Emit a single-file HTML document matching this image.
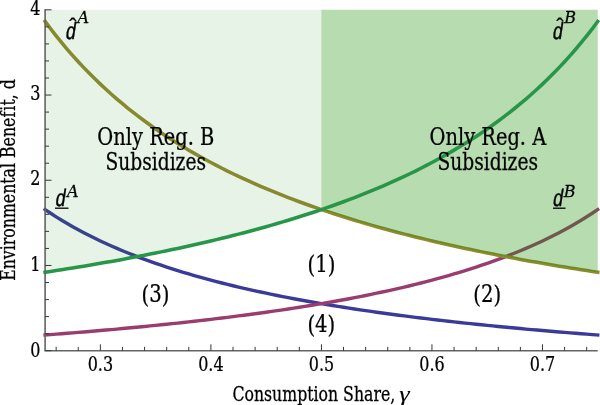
<!DOCTYPE html>
<html lang="en">
<head>
<meta charset="utf-8">
<title>Environmental Benefit vs Consumption Share</title>
<style>
html,body{margin:0;padding:0;background:#fff;}
body{width:600px;height:405px;overflow:hidden;font-family:"Liberation Serif",serif;}
svg{display:block;will-change:transform;}
text{fill:#000;stroke:#000;stroke-width:0.25px;font-variant-ligatures:none;font-kerning:none;}
</style>
</head>
<body>
<svg width="600" height="405" viewBox="0 0 600 405">
<rect x="0" y="0" width="600" height="405" fill="#ffffff"/>
<path d="M45.10,209.58 L50.63,213.27 L56.15,216.81 L61.68,220.23 L67.21,223.51 L72.73,226.68 L78.26,229.74 L83.79,232.68 L89.31,235.53 L94.84,238.28 L100.36,240.94 L105.89,243.51 L111.42,245.99 L116.94,248.40 L122.47,250.74 L128.00,253.00 L133.52,255.19 L139.05,257.32 L144.58,259.38 L150.10,261.39 L155.63,263.34 L161.16,265.23 L166.68,267.07 L172.21,268.86 L177.74,270.60 L183.26,272.30 L188.79,273.95 L194.32,275.56 L199.84,277.12 L205.37,278.65 L210.90,280.14 L216.42,281.59 L221.95,283.01 L227.47,284.39 L233.00,285.74 L238.53,287.06 L244.05,288.34 L249.58,289.60 L255.11,290.83 L260.63,292.03 L266.16,293.20 L271.69,294.35 L277.21,295.48 L282.74,296.58 L288.27,297.65 L293.79,298.71 L299.32,299.74 L304.85,300.75 L310.37,301.74 L315.90,302.71 L321.43,303.66 L326.95,304.59 L332.48,305.50 L338.00,306.40 L343.53,307.28 L349.06,308.14 L354.58,308.98 L360.11,309.81 L365.64,310.63 L371.16,311.43 L376.69,312.21 L382.22,312.98 L387.74,313.74 L393.27,314.48 L398.80,315.21 L404.32,315.93 L409.85,316.64 L415.38,317.33 L420.90,318.01 L426.43,318.68 L431.96,319.34 L437.48,319.99 L443.01,320.62 L448.53,321.25 L454.06,321.87 L459.59,322.48 L465.11,323.07 L470.64,323.66 L476.17,324.24 L481.69,324.81 L487.22,325.37 L492.75,325.92 L498.27,326.47 L503.80,327.00 L509.33,327.53 L514.85,328.05 L520.38,328.56 L525.91,329.07 L531.43,329.57 L536.96,330.06 L542.48,330.54 L548.01,331.02 L553.54,331.49 L559.06,331.95 L564.59,332.41 L570.12,332.86 L575.64,333.30 L581.17,333.74 L586.70,334.17 L592.22,334.60 L597.75,335.02" fill="none" stroke="#3a3a99" stroke-width="3.4" stroke-linecap="square" stroke-linejoin="round"/>
<path d="M45.10,335.02 L50.63,334.60 L56.15,334.17 L61.68,333.74 L67.21,333.30 L72.73,332.86 L78.26,332.41 L83.79,331.95 L89.31,331.49 L94.84,331.02 L100.36,330.54 L105.89,330.06 L111.42,329.57 L116.94,329.07 L122.47,328.56 L128.00,328.05 L133.52,327.53 L139.05,327.00 L144.58,326.47 L150.10,325.92 L155.63,325.37 L161.16,324.81 L166.68,324.24 L172.21,323.66 L177.74,323.07 L183.26,322.48 L188.79,321.87 L194.32,321.25 L199.84,320.62 L205.37,319.99 L210.90,319.34 L216.42,318.68 L221.95,318.01 L227.47,317.33 L233.00,316.64 L238.53,315.93 L244.05,315.21 L249.58,314.48 L255.11,313.74 L260.63,312.98 L266.16,312.21 L271.69,311.43 L277.21,310.63 L282.74,309.81 L288.27,308.98 L293.79,308.14 L299.32,307.28 L304.85,306.40 L310.37,305.50 L315.90,304.59 L321.43,303.66 L326.95,302.71 L332.48,301.74 L338.00,300.75 L343.53,299.74 L349.06,298.71 L354.58,297.65 L360.11,296.58 L365.64,295.48 L371.16,294.35 L376.69,293.20 L382.22,292.03 L387.74,290.83 L393.27,289.60 L398.80,288.34 L404.32,287.06 L409.85,285.74 L415.38,284.39 L420.90,283.01 L426.43,281.59 L431.96,280.14 L437.48,278.65 L443.01,277.12 L448.53,275.56 L454.06,273.95 L459.59,272.30 L465.11,270.60 L470.64,268.86 L476.17,267.07 L481.69,265.23 L487.22,263.34 L492.75,261.39 L498.27,259.38 L503.80,257.32 L509.33,255.19 L514.85,253.00 L520.38,250.74 L525.91,248.40 L531.43,245.99 L536.96,243.51 L542.48,240.94 L548.01,238.28 L553.54,235.53 L559.06,232.68 L564.59,229.74 L570.12,226.68 L575.64,223.51 L581.17,220.23 L586.70,216.81 L592.22,213.27 L597.75,209.58" fill="none" stroke="#993d71" stroke-width="3.4" stroke-linecap="square" stroke-linejoin="round"/>
<path d="M45.10,21.41 L50.63,28.79 L56.15,35.88 L61.68,42.71 L67.21,49.29 L72.73,55.62 L78.26,61.73 L83.79,67.63 L89.31,73.32 L94.84,78.82 L100.36,84.13 L105.89,89.27 L111.42,94.25 L116.94,99.07 L122.47,103.73 L128.00,108.26 L133.52,112.64 L139.05,116.90 L144.58,121.03 L150.10,125.04 L155.63,128.93 L161.16,132.72 L166.68,136.40 L172.21,139.98 L177.74,143.46 L183.26,146.85 L188.79,150.15 L194.32,153.37 L199.84,156.50 L205.37,159.56 L210.90,162.53 L216.42,165.44 L221.95,168.27 L227.47,171.04 L233.00,173.73 L238.53,176.37 L244.05,178.94 L249.58,181.46 L255.11,183.92 L260.63,186.32 L266.16,188.67 L271.69,190.97 L277.21,193.21 L282.74,195.41 L288.27,197.57 L293.79,199.67 L299.32,201.74 L304.85,203.76 L310.37,205.74 L315.90,207.68 L321.43,209.58 L326.95,211.44 L332.48,213.27 L338.00,215.06 L343.53,216.81 L349.06,218.54 L354.58,220.23 L360.11,221.89 L365.64,223.51 L371.16,225.11 L376.69,226.68 L382.22,228.22 L387.74,229.74 L393.27,231.22 L398.80,232.68 L404.32,234.12 L409.85,235.53 L415.38,236.92 L420.90,238.28 L426.43,239.62 L431.96,240.94 L437.48,242.23 L443.01,243.51 L448.53,244.76 L454.06,245.99 L459.59,247.21 L465.11,248.40 L470.64,249.58 L476.17,250.74 L481.69,251.88 L487.22,253.00 L492.75,254.10 L498.27,255.19 L503.80,256.26 L509.33,257.32 L514.85,258.36 L520.38,259.38 L525.91,260.39 L531.43,261.39 L536.96,262.37 L542.48,263.34 L548.01,264.29 L553.54,265.23 L559.06,266.16 L564.59,267.07 L570.12,267.97 L575.64,268.86 L581.17,269.74 L586.70,270.60 L592.22,271.46 L597.75,272.30" fill="none" stroke="#93892f" stroke-width="3.55" stroke-linecap="square" stroke-linejoin="round"/>
<path d="M45.10,9.82 L321.43,9.82 L321.43,209.58 L315.90,211.44 L310.37,213.27 L304.85,215.06 L299.32,216.81 L293.79,218.54 L288.27,220.23 L282.74,221.89 L277.21,223.51 L271.69,225.11 L266.16,226.68 L260.63,228.22 L255.11,229.74 L249.58,231.22 L244.05,232.68 L238.53,234.12 L233.00,235.53 L227.47,236.92 L221.95,238.28 L216.42,239.62 L210.90,240.94 L205.37,242.23 L199.84,243.51 L194.32,244.76 L188.79,245.99 L183.26,247.21 L177.74,248.40 L172.21,249.58 L166.68,250.74 L161.16,251.88 L155.63,253.00 L150.10,254.10 L144.58,255.19 L139.05,256.26 L133.52,257.32 L128.00,258.36 L122.47,259.38 L116.94,260.39 L111.42,261.39 L105.89,262.37 L100.36,263.34 L94.84,264.29 L89.31,265.23 L83.79,266.16 L78.26,267.07 L72.73,267.97 L67.21,268.86 L61.68,269.74 L56.15,270.60 L50.63,271.46 L45.10,272.30 Z" fill="rgb(38,146,40)" fill-opacity="0.11"/>
<path d="M321.43,9.82 L597.75,9.82 L597.75,272.30 L592.22,271.46 L586.70,270.60 L581.17,269.74 L575.64,268.86 L570.12,267.97 L564.59,267.07 L559.06,266.16 L553.54,265.23 L548.01,264.29 L542.48,263.34 L536.96,262.37 L531.43,261.39 L525.91,260.39 L520.38,259.38 L514.85,258.36 L509.33,257.32 L503.80,256.26 L498.27,255.19 L492.75,254.10 L487.22,253.00 L481.69,251.88 L476.17,250.74 L470.64,249.58 L465.11,248.40 L459.59,247.21 L454.06,245.99 L448.53,244.76 L443.01,243.51 L437.48,242.23 L431.96,240.94 L426.43,239.62 L420.90,238.28 L415.38,236.92 L409.85,235.53 L404.32,234.12 L398.80,232.68 L393.27,231.22 L387.74,229.74 L382.22,228.22 L376.69,226.68 L371.16,225.11 L365.64,223.51 L360.11,221.89 L354.58,220.23 L349.06,218.54 L343.53,216.81 L338.00,215.06 L332.48,213.27 L326.95,211.44 L321.43,209.58 Z" fill="rgb(30,146,8)" fill-opacity="0.32"/>
<path d="M45.10,272.30 L50.63,271.46 L56.15,270.60 L61.68,269.74 L67.21,268.86 L72.73,267.97 L78.26,267.07 L83.79,266.16 L89.31,265.23 L94.84,264.29 L100.36,263.34 L105.89,262.37 L111.42,261.39 L116.94,260.39 L122.47,259.38 L128.00,258.36 L133.52,257.32 L139.05,256.26 L144.58,255.19 L150.10,254.10 L155.63,253.00 L161.16,251.88 L166.68,250.74 L172.21,249.58 L177.74,248.40 L183.26,247.21 L188.79,245.99 L194.32,244.76 L199.84,243.51 L205.37,242.23 L210.90,240.94 L216.42,239.62 L221.95,238.28 L227.47,236.92 L233.00,235.53 L238.53,234.12 L244.05,232.68 L249.58,231.22 L255.11,229.74 L260.63,228.22 L266.16,226.68 L271.69,225.11 L277.21,223.51 L282.74,221.89 L288.27,220.23 L293.79,218.54 L299.32,216.81 L304.85,215.06 L310.37,213.27 L315.90,211.44 L321.43,209.58 L326.95,207.68 L332.48,205.74 L338.00,203.76 L343.53,201.74 L349.06,199.67 L354.58,197.57 L360.11,195.41 L365.64,193.21 L371.16,190.97 L376.69,188.67 L382.22,186.32 L387.74,183.92 L393.27,181.46 L398.80,178.94 L404.32,176.37 L409.85,173.73 L415.38,171.04 L420.90,168.27 L426.43,165.44 L431.96,162.53 L437.48,159.56 L443.01,156.50 L448.53,153.37 L454.06,150.15 L459.59,146.85 L465.11,143.46 L470.64,139.98 L476.17,136.40 L481.69,132.72 L487.22,128.93 L492.75,125.04 L498.27,121.03 L503.80,116.90 L509.33,112.64 L514.85,108.26 L520.38,103.73 L525.91,99.07 L531.43,94.25 L536.96,89.27 L542.48,84.13 L548.01,78.82 L553.54,73.32 L559.06,67.63 L564.59,61.73 L570.12,55.62 L575.64,49.29 L581.17,42.71 L586.70,35.88 L592.22,28.79 L597.75,21.41" fill="none" stroke="#289648" stroke-width="3.55" stroke-linecap="square" stroke-linejoin="round"/>
<path d="M45.10,9.32 V350.80 H597.75" fill="none" stroke="#646464" stroke-width="1.6"/>
<path d="M45.10,350.70 h6.4 M45.10,333.66 h3.9 M45.10,316.61 h3.9 M45.10,299.57 h3.9 M45.10,282.52 h3.9 M45.10,265.48 h6.4 M45.10,248.44 h3.9 M45.10,231.39 h3.9 M45.10,214.35 h3.9 M45.10,197.30 h3.9 M45.10,180.26 h6.4 M45.10,163.22 h3.9 M45.10,146.17 h3.9 M45.10,129.13 h3.9 M45.10,112.08 h3.9 M45.10,95.04 h6.4 M45.10,78.00 h3.9 M45.10,60.95 h3.9 M45.10,43.91 h3.9 M45.10,26.86 h3.9 M45.10,9.82 h6.4 M56.15,350.70 v-3.9 M78.26,350.70 v-3.9 M100.36,350.70 v-6.4 M122.47,350.70 v-3.9 M144.58,350.70 v-3.9 M166.68,350.70 v-3.9 M188.79,350.70 v-3.9 M210.90,350.70 v-6.4 M233.00,350.70 v-3.9 M255.11,350.70 v-3.9 M277.21,350.70 v-3.9 M299.32,350.70 v-3.9 M321.43,350.70 v-6.4 M343.53,350.70 v-3.9 M365.64,350.70 v-3.9 M387.74,350.70 v-3.9 M409.85,350.70 v-3.9 M431.95,350.70 v-6.4 M454.06,350.70 v-3.9 M476.17,350.70 v-3.9 M498.27,350.70 v-3.9 M520.38,350.70 v-3.9 M542.48,350.70 v-6.4 M564.59,350.70 v-3.9 M586.70,350.70 v-3.9" fill="none" stroke="#383838" stroke-width="1.0"/>
<text transform="translate(40.30,356.60) scale(0.88,1.0)" font-family="'DejaVu Serif Condensed','DejaVu Serif','Liberation Serif',serif" font-size="20.2" text-anchor="end"  >0</text>
<text transform="translate(40.30,270.68) scale(0.88,1.0)" font-family="'DejaVu Serif Condensed','DejaVu Serif','Liberation Serif',serif" font-size="20.2" text-anchor="end"  >1</text>
<text transform="translate(40.30,185.16) scale(0.88,1.0)" font-family="'DejaVu Serif Condensed','DejaVu Serif','Liberation Serif',serif" font-size="20.2" text-anchor="end"  >2</text>
<text transform="translate(40.30,100.24) scale(0.88,1.0)" font-family="'DejaVu Serif Condensed','DejaVu Serif','Liberation Serif',serif" font-size="20.2" text-anchor="end"  >3</text>
<text transform="translate(40.30,14.52) scale(0.88,1.0)" font-family="'DejaVu Serif Condensed','DejaVu Serif','Liberation Serif',serif" font-size="20.2" text-anchor="end"  >4</text>
<text transform="translate(100.36,371.40) scale(0.88,1.0)" font-family="'DejaVu Serif Condensed','DejaVu Serif','Liberation Serif',serif" font-size="20.2" text-anchor="middle"  >0.3</text>
<text transform="translate(210.90,371.40) scale(0.88,1.0)" font-family="'DejaVu Serif Condensed','DejaVu Serif','Liberation Serif',serif" font-size="20.2" text-anchor="middle"  >0.4</text>
<text transform="translate(321.43,371.40) scale(0.88,1.0)" font-family="'DejaVu Serif Condensed','DejaVu Serif','Liberation Serif',serif" font-size="20.2" text-anchor="middle"  >0.5</text>
<text transform="translate(431.95,371.40) scale(0.88,1.0)" font-family="'DejaVu Serif Condensed','DejaVu Serif','Liberation Serif',serif" font-size="20.2" text-anchor="middle"  >0.6</text>
<text transform="translate(542.48,371.40) scale(0.88,1.0)" font-family="'DejaVu Serif Condensed','DejaVu Serif','Liberation Serif',serif" font-size="20.2" text-anchor="middle"  >0.7</text>
<text transform="translate(232.40,400.50) scale(0.879,1.0)" font-family="'DejaVu Serif Condensed','DejaVu Serif','Liberation Serif',serif" font-size="19.9" text-anchor="start"  >Consumption Share,</text>
<text transform="translate(399.30,400.50) scale(1.28,1.0)" font-family="'Liberation Serif',serif" font-size="20.5" text-anchor="start" font-style="italic" style="stroke-width:0.1px" >γ</text>
<text transform="translate(15.4,180) rotate(-90) scale(0.88,1.0)" font-family="'DejaVu Serif Condensed','DejaVu Serif','Liberation Serif',serif" font-size="19.9" text-anchor="middle">Environmental Benef<tspan dx="1.3">it, d</tspan></text>
<text transform="translate(155.85,144.50) scale(0.9,1.0)" font-family="'DejaVu Serif Condensed','DejaVu Serif','Liberation Serif',serif" font-size="24" text-anchor="middle"  >Only Reg. B</text>
<text transform="translate(155.75,169.60) scale(0.864,1.0)" font-family="'DejaVu Serif Condensed','DejaVu Serif','Liberation Serif',serif" font-size="24" text-anchor="middle"  >Subsidizes</text>
<text transform="translate(487.85,144.50) scale(0.9,1.0)" font-family="'DejaVu Serif Condensed','DejaVu Serif','Liberation Serif',serif" font-size="24" text-anchor="middle"  >Only Reg. A</text>
<text transform="translate(487.75,169.60) scale(0.864,1.0)" font-family="'DejaVu Serif Condensed','DejaVu Serif','Liberation Serif',serif" font-size="24" text-anchor="middle"  >Subsidizes</text>
<text transform="translate(321.40,272.20) scale(0.91,1.0)" font-family="'DejaVu Serif Condensed','DejaVu Serif','Liberation Serif',serif" font-size="24" text-anchor="middle"  ><tspan dy="1.1">(</tspan><tspan dy="-1.1">1</tspan><tspan dy="1.1">)</tspan></text>
<text transform="translate(155.50,302.20) scale(0.91,1.0)" font-family="'DejaVu Serif Condensed','DejaVu Serif','Liberation Serif',serif" font-size="24" text-anchor="middle"  ><tspan dy="1.1">(</tspan><tspan dy="-1.1">3</tspan><tspan dy="1.1">)</tspan></text>
<text transform="translate(487.20,302.20) scale(0.91,1.0)" font-family="'DejaVu Serif Condensed','DejaVu Serif','Liberation Serif',serif" font-size="24" text-anchor="middle"  ><tspan dy="1.1">(</tspan><tspan dy="-1.1">2</tspan><tspan dy="1.1">)</tspan></text>
<text transform="translate(321.30,332.00) scale(0.91,1.0)" font-family="'DejaVu Serif Condensed','DejaVu Serif','Liberation Serif',serif" font-size="24" text-anchor="middle"  ><tspan dy="1.1">(</tspan><tspan dy="-1.1">4</tspan><tspan dy="1.1">)</tspan></text>
<text transform="translate(65.00,39.40) skewX(-9) scale(0.74,1.0)" font-family="'Liberation Sans',sans-serif" font-size="23.9" style="stroke-width:0.45px">d</text>
<text transform="translate(77.40,22.70) scale(1.08,1.0)" font-family="'DejaVu Serif Condensed','DejaVu Serif','Liberation Serif',serif" font-style="italic" font-size="16.5">A</text>
<text transform="translate(73.00,35.60) scale(1.0,1.2)" font-family="'Liberation Sans',sans-serif" font-size="22" text-anchor="middle" style="stroke-width:0.2px">ˆ</text>
<text transform="translate(551.90,39.40) skewX(-9) scale(0.74,1.0)" font-family="'Liberation Sans',sans-serif" font-size="23.9" style="stroke-width:0.45px">d</text>
<text transform="translate(564.30,22.80) scale(1.08,1.0)" font-family="'DejaVu Serif Condensed','DejaVu Serif','Liberation Serif',serif" font-style="italic" font-size="16.5">B</text>
<text transform="translate(559.90,35.60) scale(1.0,1.2)" font-family="'Liberation Sans',sans-serif" font-size="22" text-anchor="middle" style="stroke-width:0.2px">ˆ</text>
<text transform="translate(54.80,206.00) skewX(-9) scale(0.74,1.0)" font-family="'Liberation Sans',sans-serif" font-size="23.9" style="stroke-width:0.45px">d</text>
<text transform="translate(66.90,196.80) scale(1.08,1.0)" font-family="'DejaVu Serif Condensed','DejaVu Serif','Liberation Serif',serif" font-style="italic" font-size="16.5">A</text>
<path d="M55.00,208.20 H68.50" stroke="#000" stroke-width="1.3"/>
<text transform="translate(552.20,206.00) skewX(-9) scale(0.74,1.0)" font-family="'Liberation Sans',sans-serif" font-size="23.9" style="stroke-width:0.45px">d</text>
<text transform="translate(563.80,196.50) scale(1.08,1.0)" font-family="'DejaVu Serif Condensed','DejaVu Serif','Liberation Serif',serif" font-style="italic" font-size="16.5">B</text>
<path d="M553.00,208.20 H565.50" stroke="#000" stroke-width="1.3"/>
</svg>
</body>
</html>
